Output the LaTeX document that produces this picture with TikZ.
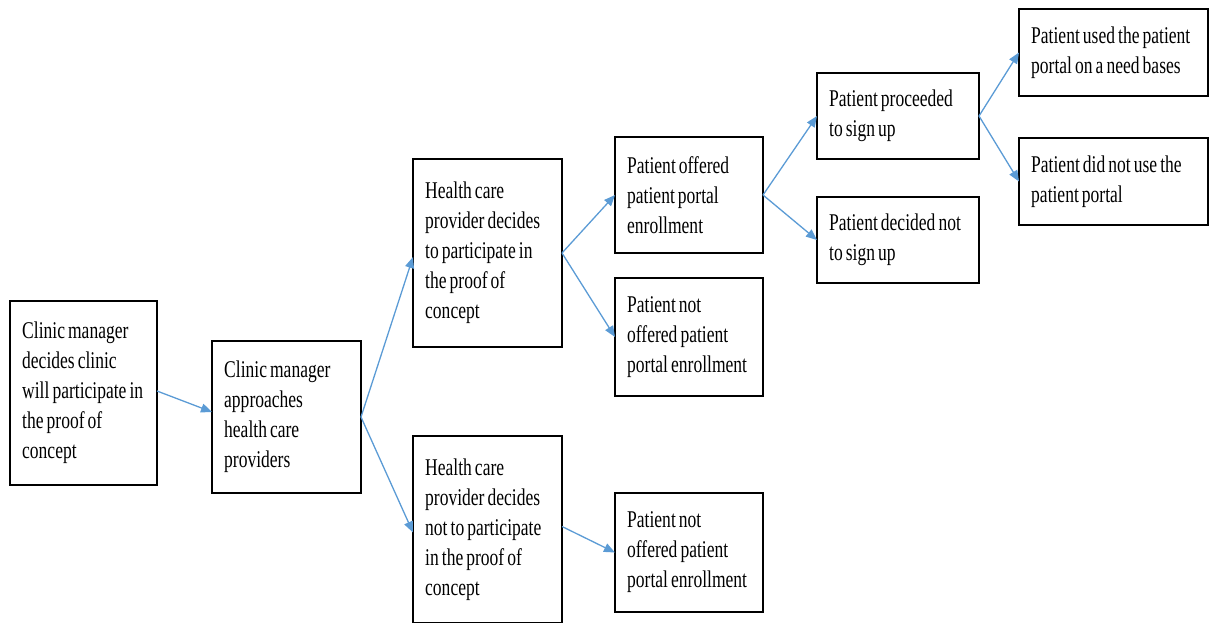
\documentclass[tikz,border=0pt]{standalone}
\usepackage{fontspec}
\setmainfont{Liberation Serif}[FakeStretch=0.73,WordSpace=0.7]
\usetikzlibrary{arrows.meta,calc}
\definecolor{flowblue}{HTML}{5B9BD5}
\begin{document}
\begin{tikzpicture}[x=1pt,y=-1pt,
  stagebox/.style n args={2}{draw=black,line width=1.4pt,rectangle,
    inner sep=0pt,outer sep=0pt,minimum width=#1,minimum height=#2},
  boxtext/.style={anchor=west,xshift=12pt,align=left,inner sep=0pt,
    font=\fontsize{24}{30}\selectfont},
  flow/.style={draw=flowblue,line width=1.3pt,
    -{Triangle[length=11pt,width=9pt]}}]
\useasboundingbox (0,0) rectangle (1210,623);

% first decision: the clinic
\node[stagebox={147pt}{184pt},
  label={[boxtext]west:{Clinic manager\\decides clinic\\will participate in\\the proof of\\concept}}]
  (clinic) at (83.5,393) {};
\node[stagebox={149pt}{152pt},
  label={[boxtext]west:{Clinic manager\\approaches\\health care\\providers}}]
  (approach) at (286.5,417) {};

% providers
\node[stagebox={149pt}{188pt},
  label={[boxtext]west:{Health care\\provider decides\\to participate in\\the proof of\\concept}}]
  (provyes) at (487.5,253) {};
\node[stagebox={149pt}{187pt},
  label={[boxtext]west:{Health care\\provider decides\\not to participate\\in the proof of\\concept}}]
  (provno) at (487.5,529.5) {};

% enrollment offers
\node[stagebox={148pt}{116pt},
  label={[boxtext]west:{Patient offered\\patient portal\\enrollment}}]
  (offered) at (689,195) {};
\node[stagebox={148pt}{118pt},
  label={[boxtext]west:{Patient not\\offered patient\\portal enrollment}}]
  (notoffa) at (689,337) {};
\node[stagebox={148pt}{119pt},
  label={[boxtext]west:{Patient not\\offered patient\\portal enrollment}}]
  (notoffb) at (689,552.5) {};

% sign-up outcomes
\node[stagebox={162pt}{86pt},
  label={[boxtext]west:{Patient proceeded\\to sign up}}]
  (signup) at (898,116) {};
\node[stagebox={162pt}{86pt},
  label={[boxtext]west:{Patient decided not\\to sign up}}]
  (nosign) at (898,240) {};

% portal use
\node[stagebox={189pt}{87pt},
  label={[boxtext]west:{Patient used the patient\\portal on a need bases}}]
  (used) at (1113.5,52.5) {};
\node[stagebox={189pt}{87pt},
  label={[boxtext]west:{Patient did not use the\\patient portal}}]
  (notused) at (1113.5,181.5) {};

% connectors
\draw[flow] ($(clinic.east)+(0,-2)$) -- ($(approach.west)+(0,-5)$);
\draw[flow] (approach.east) -- ($(provyes.west)+(0,4)$);
\draw[flow] (approach.east) -- ($(provno.west)+(0,3)$);
\draw[flow] (provyes.east) -- (offered.west);
\draw[flow] (provyes.east) -- (notoffa.west);
\draw[flow] ($(provno.east)+(0,-3)$) -- (notoffb.west);
\draw[flow] (offered.east) -- (signup.west);
\draw[flow] (offered.east) -- (nosign.west);
\draw[flow] (signup.east) -- (used.west);
\draw[flow] (signup.east) -- (notused.west);
\end{tikzpicture}
\end{document}
